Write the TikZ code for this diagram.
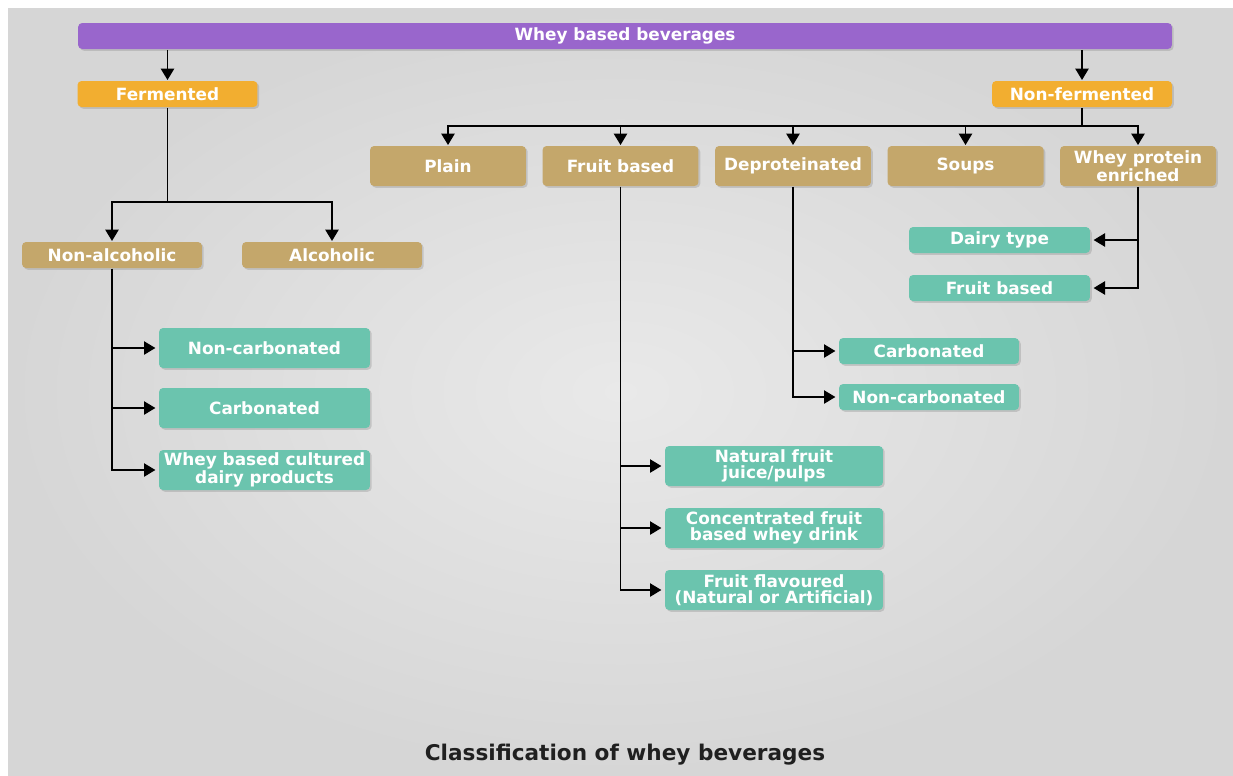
\documentclass[tikz,border=0pt]{standalone}
\usepackage{fontspec}
\setsansfont{DejaVu Sans}
\usetikzlibrary{arrows.meta, positioning, shadows}

\definecolor{barpurple}{HTML}{9966CC}
\definecolor{fermorange}{HTML}{F2AE30}
\definecolor{cattan}{HTML}{C4A76B}
\definecolor{leafteal}{HTML}{6BC4AE}
\definecolor{bgdark}{HTML}{D6D6D6}
\definecolor{bglight}{HTML}{E9E9E9}
\definecolor{captext}{HTML}{202020}

\tikzset{
  box/.style={rounded corners=2.3pt, inner sep=0pt, align=center, text=white,
    font=\sffamily\bfseries\fontsize{9.6}{9}\selectfont,
    drop shadow={shadow xshift=1pt, shadow yshift=-1pt, opacity=0.3}},
  barbox/.style={box, fill=barpurple, minimum width=21.88cm, minimum height=0.52cm},
  fermbox/.style={box, fill=fermorange, minimum width=3.6cm, minimum height=0.52cm},
  catbox/.style={box, fill=cattan, minimum width=3.12cm, minimum height=0.8cm},
  subbox/.style={box, fill=cattan, minimum width=3.6cm, minimum height=0.52cm},
  leafbox/.style={box, fill=leafteal, minimum height=0.8cm},
  flatleaf/.style={box, fill=leafteal, minimum height=0.52cm},
}

\begin{document}
\begin{tikzpicture}[x=0.02cm, y=-0.02cm, >={Triangle[length=6.5pt,width=7.5pt]}, line width=1.1pt]
    % panel
    \useasboundingbox (0,0) rectangle (1233,775);
    \fill[white] (0,0) rectangle (1233,775);
    \shade[inner color=bglight, outer color=bgdark] (8,8) rectangle (1233,775);

    % top levels
    \node[barbox] (whey) at (625,36) {Whey based beverages};
    \node[fermbox] (fer) at (167.5,94) {Fermented};
    \node[fermbox] (nonfer) at (1082,94) {Non-fermented};

    % non-fermented kinds
    \node[catbox] (plain) at (448,166) {Plain};
    \node[catbox] (fruit) at (620.5,166) {Fruit based};
    \node[catbox] (deprot) at (793,166) {Deproteinated};
    \node[catbox] (soups) at (965.5,166) {Soups};
    \node[catbox] (wpe) at (1138,166) {Whey protein\\enriched};

    % fermented kinds
    \node[subbox] (nonalc) at (112,255) {Non-alcoholic};
    \node[subbox] (alc) at (332,255) {Alcoholic};

    % leaves
    \node[leafbox, minimum width=4.22cm] (nc) at (264.5,348) {Non-carbonated};
    \node[leafbox, minimum width=4.22cm] (carb) at (264.5,408) {Carbonated};
    \node[leafbox, minimum width=4.22cm] (cult) at (264.5,470) {Whey based cultured\\dairy products};
    \node[flatleaf, minimum width=3.62cm] (dairy) at (999.5,240) {Dairy type};
    \node[flatleaf, minimum width=3.62cm] (wfruit) at (999.5,288) {Fruit based};
    \node[flatleaf, minimum width=3.6cm] (dcarb) at (929,351) {Carbonated};
    \node[flatleaf, minimum width=3.6cm] (dnon) at (929,397) {Non-carbonated};
    \node[leafbox, minimum width=4.36cm] (nat) at (774,466) {Natural fruit\\juice/pulps};
    \node[leafbox, minimum width=4.36cm] (conc) at (774,528) {Concentrated fruit\\based whey drink};
    \node[leafbox, minimum width=4.36cm] (flav) at (774,590) {Fruit flavoured\\(Natural or Artificial)};

    \node[font=\sffamily\bfseries\fontsize{12.3}{14}\selectfont, text=captext] (title) at (625,755) {Classification of whey beverages};

    % connectors
    \draw[->] (whey.south -| fer.north) -- (fer.north);
    \draw[->] (whey.south -| nonfer.north) -- (nonfer.north);

    \coordinate (fj) at (167.5,202);
    \draw (fer.south) -- (fj);
    \draw[->] (fj) -| (nonalc.north);
    \draw[->] (fj) -| (alc.north);

    \coordinate (nj) at (1082,126);
    \draw (nonfer.south) -- (nj);
    \foreach \n in {plain,fruit,deprot,soups,wpe}
        \draw[->] (nj) -| (\n.north);

    \foreach \n in {nc,carb,cult}
        \draw[->, shorten >=1.5pt] (nonalc.south) |- (\n.west);
    \foreach \n in {dairy,wfruit}
        \draw[->, shorten >=1.5pt] (wpe.south) |- (\n.east);
    \foreach \n in {dcarb,dnon}
        \draw[->, shorten >=1.5pt] (deprot.south) |- (\n.west);
    \foreach \n in {nat,conc,flav}
        \draw[->, shorten >=1.5pt] (fruit.south) |- (\n.west);
\end{tikzpicture}
\end{document}
